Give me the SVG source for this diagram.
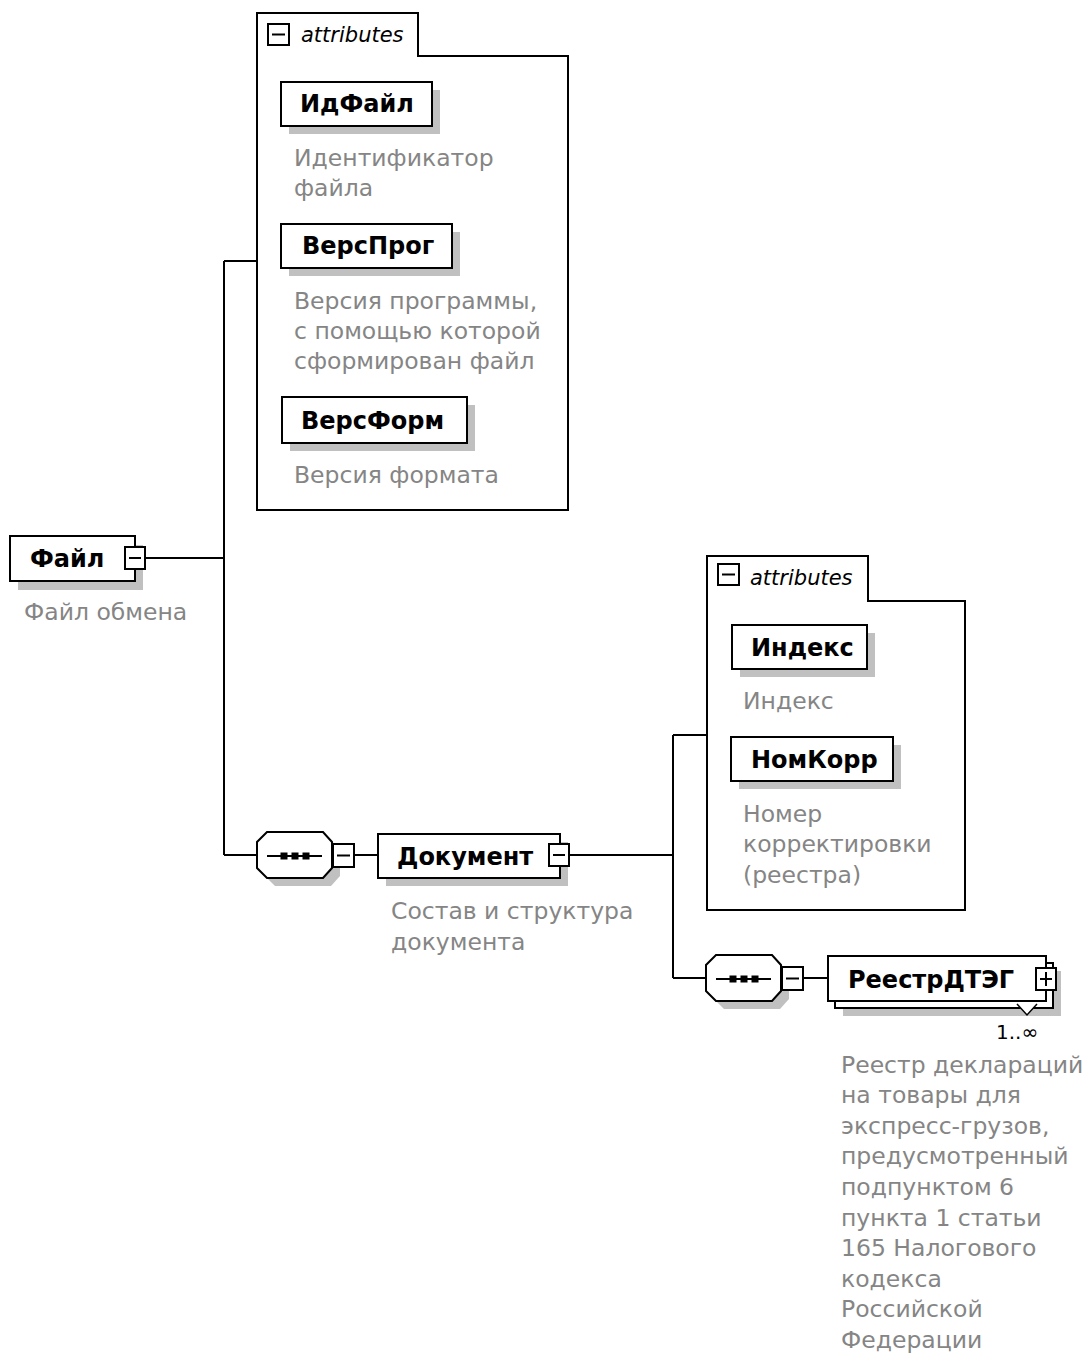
<svg xmlns="http://www.w3.org/2000/svg" width="1089" height="1355" viewBox="0 0 1089 1355">
<style>
.bg{fill:#ffffff}
.box{fill:#ffffff;stroke:#000000;stroke-width:2}
.shadow{fill:#c0c0c0;stroke:none}
.cont{fill:#ffffff;stroke:#000000;stroke-width:2}
.icon{fill:#ffffff;stroke:#000000;stroke-width:2}
.icl{stroke:#000000;stroke-width:2;fill:none}
.conn{stroke:#000000;stroke-width:2;fill:none}
.name{font-family:"DejaVu Sans",Verdana,sans-serif;font-weight:bold;font-size:24px;fill:#000000}
.desc{font-family:"DejaVu Sans",Verdana,sans-serif;font-size:23.5px;fill:#858585}
.attr{font-family:"DejaVu Sans",Verdana,sans-serif;font-style:italic;font-size:21px;fill:#000000}
.card{font-family:"DejaVu Sans",Verdana,sans-serif;font-size:20px;fill:#000000}
.dot{fill:#000000}
</style>
<rect class="bg" x="0" y="0" width="1089" height="1355"/>

<g id="connectors">
  <line class="conn" x1="145" y1="558" x2="224" y2="558"/>
  <line class="conn" x1="224" y1="261" x2="224" y2="855"/>
  <line class="conn" x1="224" y1="261" x2="257" y2="261"/>
  <line class="conn" x1="224" y1="855" x2="257" y2="855"/>
  <line class="conn" x1="355" y1="855" x2="378" y2="855"/>
  <line class="conn" x1="570" y1="855" x2="673" y2="855"/>
  <line class="conn" x1="673" y1="735" x2="673" y2="978"/>
  <line class="conn" x1="673" y1="735" x2="707" y2="735"/>
  <line class="conn" x1="673" y1="978" x2="706" y2="978"/>
  <line class="conn" x1="804" y1="978" x2="828" y2="978"/>
</g>

<g id="node-fail">
  <rect class="shadow" x="18" y="545" width="125" height="45"/>
  <rect class="box" x="10" y="536" width="125" height="45"/>
  <text class="name" x="30" y="567">Файл</text>
  <rect class="icon" x="125" y="547" width="20" height="22"/>
  <line class="icl" x1="129" y1="558" x2="141" y2="558"/>
  <text class="desc" x="24" y="620">Файл обмена</text>
</g>

<g id="attrs-fail">
  <path class="cont" d="M257,13 H418 V56 H568 V510 H257 Z"/>
  <rect class="icon" x="268" y="24" width="21" height="21"/>
  <line class="icl" x1="272" y1="34.5" x2="285" y2="34.5"/>
  <text class="attr" x="301" y="42">attributes</text>
</g>

<g id="node-idfail">
  <rect class="shadow" x="289" y="90" width="151" height="44"/>
  <rect class="box" x="281" y="82" width="151" height="44"/>
  <text class="name" x="300" y="112">ИдФайл</text>
  <text class="desc" x="294" y="166">Идентификатор</text>
  <text class="desc" x="294" y="196">файла</text>
</g>

<g id="node-versprog">
  <rect class="shadow" x="289" y="232" width="171" height="44"/>
  <rect class="box" x="281" y="224" width="171" height="44"/>
  <text class="name" x="302" y="254">ВерсПрог</text>
  <text class="desc" x="294" y="309">Версия программы,</text>
  <text class="desc" x="294" y="339">с помощью которой</text>
  <text class="desc" x="294" y="369">сформирован файл</text>
</g>

<g id="node-versform">
  <rect class="shadow" x="290" y="405" width="185" height="46"/>
  <rect class="box" x="282" y="397" width="185" height="46"/>
  <text class="name" x="301" y="429">ВерсФорм</text>
  <text class="desc" x="294" y="483">Версия формата</text>
</g>

<g id="seq-1">
  <path class="shadow" d="M275,840 H331 L340,850 V876 L331,886 H275 L265,876 V850 Z"/>
  <path class="box" d="M267,832 H323 L332,842 V868 L323,878 H267 L257,868 V842 Z"/>
  <line class="icl" x1="267" y1="856" x2="322" y2="856"/>
  <rect class="dot" x="280.5" y="852.5" width="7" height="7"/>
  <rect class="dot" x="291.5" y="852.5" width="7" height="7"/>
  <rect class="dot" x="302.5" y="852.5" width="7" height="7"/>
  <rect class="icon" x="333" y="844" width="21" height="23"/>
  <line class="icl" x1="337" y1="855.5" x2="350" y2="855.5"/>
</g>

<g id="node-dokument">
  <rect class="shadow" x="386" y="842" width="182" height="44"/>
  <rect class="box" x="378" y="834" width="182" height="44"/>
  <text class="name" x="397" y="865">Документ</text>
  <rect class="icon" x="549" y="844" width="20" height="22"/>
  <line class="icl" x1="553" y1="855" x2="565" y2="855"/>
  <text class="desc" x="391" y="919">Состав и структура</text>
  <text class="desc" x="391" y="950">документа</text>
</g>

<g id="attrs-dokument">
  <path class="cont" d="M707,556 H868 V601 H965 V910 H707 Z"/>
  <rect class="icon" x="718" y="564" width="21" height="21"/>
  <line class="icl" x1="722" y1="574.5" x2="735" y2="574.5"/>
  <text class="attr" x="750" y="585">attributes</text>
</g>

<g id="node-indeks">
  <rect class="shadow" x="740" y="633" width="135" height="44"/>
  <rect class="box" x="732" y="625" width="135" height="44"/>
  <text class="name" x="751" y="656">Индекс</text>
  <text class="desc" x="743" y="709">Индекс</text>
</g>

<g id="node-nomkorr">
  <rect class="shadow" x="739" y="745" width="162" height="44"/>
  <rect class="box" x="731" y="737" width="162" height="44"/>
  <text class="name" x="751" y="768">НомКорр</text>
  <text class="desc" x="743" y="822">Номер</text>
  <text class="desc" x="743" y="852">корректировки</text>
  <text class="desc" x="743" y="883">(реестра)</text>
</g>

<g id="seq-2">
  <path class="shadow" d="M724,963 H780 L789,973 V999 L780,1009 H724 L714,999 V973 Z"/>
  <path class="box" d="M716,955 H772 L781,965 V991 L772,1001 H716 L706,991 V965 Z"/>
  <line class="icl" x1="716" y1="979" x2="771" y2="979"/>
  <rect class="dot" x="729.5" y="975.5" width="7" height="7"/>
  <rect class="dot" x="740.5" y="975.5" width="7" height="7"/>
  <rect class="dot" x="751.5" y="975.5" width="7" height="7"/>
  <rect class="icon" x="782" y="967" width="21" height="23"/>
  <line class="icl" x1="786" y1="978.5" x2="799" y2="978.5"/>
</g>

<g id="node-reestr">
  <rect class="shadow" x="843" y="971" width="218" height="45"/>
  <rect class="box" x="835" y="963" width="218" height="45"/>
  <rect class="box" x="828" y="956" width="218" height="45"/>
  <text class="name" x="848" y="988">РеестрДТЭГ</text>
  <rect class="icon" x="1036" y="968" width="20" height="22"/>
  <line class="icl" x1="1040" y1="979" x2="1052" y2="979"/>
  <line class="icl" x1="1046" y1="972" x2="1046" y2="986"/>
  <polyline fill="#ffffff" stroke="#000000" stroke-width="1.5" points="1017,1004 1027,1015 1037,1004"/>
  <text class="card" x="996" y="1039">1..∞</text>
  <text class="desc" x="841" y="1073">Реестр деклараций</text>
  <text class="desc" x="841" y="1103">на товары для</text>
  <text class="desc" x="841" y="1134">экспресс-грузов,</text>
  <text class="desc" x="841" y="1164">предусмотренный</text>
  <text class="desc" x="841" y="1195">подпунктом 6</text>
  <text class="desc" x="841" y="1226">пункта 1 статьи</text>
  <text class="desc" x="841" y="1256">165 Налогового</text>
  <text class="desc" x="841" y="1287">кодекса</text>
  <text class="desc" x="841" y="1317">Российской</text>
  <text class="desc" x="841" y="1348">Федерации</text>
</g>
</svg>
